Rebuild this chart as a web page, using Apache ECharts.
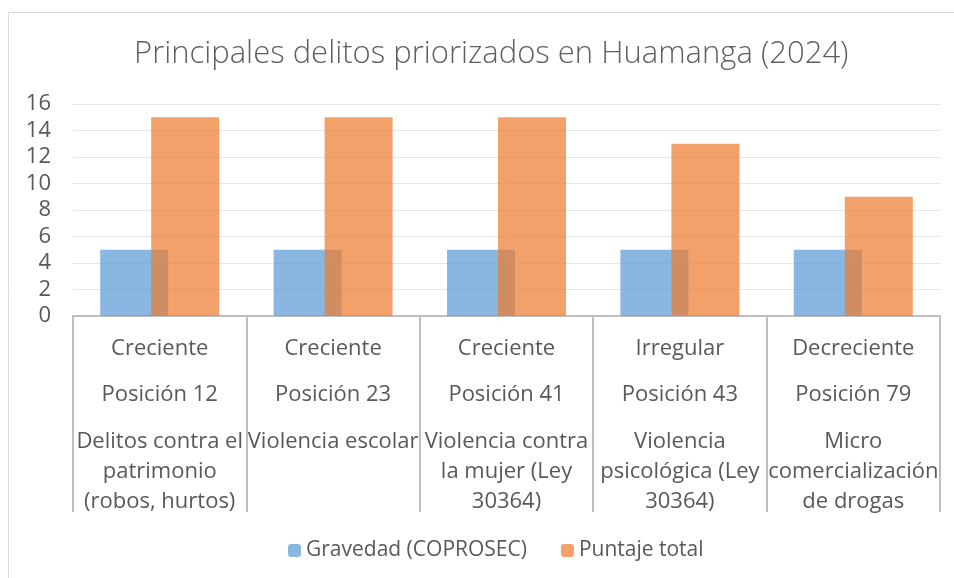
<!DOCTYPE html>
<html>
<head>
<meta charset="utf-8">
<script src="https://cdn.jsdelivr.net/npm/echarts@6/dist/echarts.min.js"></script>
<style>html,body{margin:0;padding:0;background:#fff}#c{width:954px;height:578px}</style>
</head>
<body>
<div id="c"></div>
<script>
const trends = ['Creciente', 'Creciente', 'Creciente', 'Irregular', 'Decreciente'];
const positions = ['Posición 12', 'Posición 23', 'Posición 41', 'Posición 43', 'Posición 79'];
const categories = [
  'Delitos contra el\npatrimonio\n(robos, hurtos)',
  'Violencia escolar',
  'Violencia contra\nla mujer (Ley\n30364)',
  'Violencia\npsicológica (Ley\n30364)',
  'Micro\ncomercialización\nde drogas'
];
const gravedad = [5, 5, 5, 5, 5];
const puntaje = [15, 15, 15, 13, 9];
const yTicks = { min: 0, max: 16, interval: 2 };

const FONT = '"Open Sans", sans-serif';
const TXT = '#595959';
const chart = echarts.init(document.getElementById('c'));
const hiddenAxis = (data, margin, lh) => ({
  type: 'category', data: data, position: 'bottom', gridIndex: 0,
  axisLine: { show: false }, axisTick: { show: false },
  axisLabel: { interval: 0, margin: margin, color: TXT, fontFamily: FONT, fontSize: 22, lineHeight: lh, verticalAlign: 'top' }
});
chart.setOption({
  animation: false,
  graphic: [{ type: 'rect', shape: { x: 8.5, y: 12.5, width: 960, height: 600 }, style: { fill: 'none', stroke: '#D9D9D9', lineWidth: 1 }, silent: true }],
  title: {
    text: 'Principales delitos priorizados en Huamanga (2024)',
    left: 129, top: 34,
    textStyle: { fontFamily: FONT, fontSize: 31, fontWeight: 300, color: '#5f5f5f' }
  },
  legend: {
    bottom: 12, left: 283, itemWidth: 13, itemHeight: 13, itemGap: 34,
    textStyle: { fontFamily: FONT, fontSize: 21, color: TXT },
    data: ['Gravedad (COPROSEC)', 'Puntaje total']
  },
  grid: { left: 73, right: 14, top: 104, bottom: 262, containLabel: false },
  xAxis: [
    {
      type: 'category', data: trends, position: 'bottom',
      axisLine: { show: true, lineStyle: { color: '#BFBFBF', width: 2 } },
      axisTick: { show: true, length: 196, lineStyle: { color: '#BFBFBF', width: 2 } },
      axisLabel: { interval: 0, margin: 20, color: TXT, fontFamily: FONT, fontSize: 22, lineHeight: 26, verticalAlign: 'top' }
    },
    hiddenAxis(positions, 66, 26),
    hiddenAxis(categories, 111, 30)
  ],
  yAxis: {
    type: 'value', min: yTicks.min, max: yTicks.max, interval: yTicks.interval,
    axisLine: { show: false }, axisTick: { show: false },
    axisLabel: { color: TXT, fontFamily: FONT, fontSize: 22, margin: 22 },
    splitLine: { lineStyle: { color: '#E6E6E6', width: 1 } }
  },
  series: [
    { name: 'Gravedad (COPROSEC)', type: 'bar', data: gravedad, barWidth: 68, barGap: '-25%',
      itemStyle: { color: '#5B9BD5', opacity: 0.72 } },
    { name: 'Puntaje total', type: 'bar', data: puntaje, barWidth: 68, barGap: '-25%',
      itemStyle: { color: '#ED7D31', opacity: 0.72 } }
  ]
});
</script>
</body>
</html>
